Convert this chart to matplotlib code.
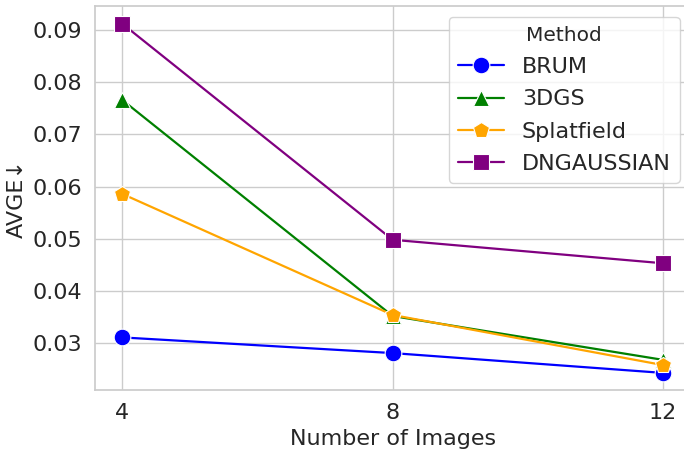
import matplotlib
matplotlib.use("Agg")
import matplotlib.pyplot as plt
import seaborn as sns

images = [4, 8, 12]
methods = ["BRUM", "3DGS", "Splatfield", "DNGAUSSIAN"]
brum = [0.0311, 0.0281, 0.0243]
dgs = [0.0766, 0.0352, 0.0268]
splatfield = [0.0586, 0.0354, 0.0258]
dngaussian = [0.0912, 0.0498, 0.0453]

values = [brum, dgs, splatfield, dngaussian]
colors = ["blue", "green", "orange", "purple"]
markers = ["o", "^", "p", "s"]

sns.set_theme(style="whitegrid")
plt.rcParams['font.family'] = ['DejaVu Sans']

fig, ax = plt.subplots(figsize=(6.84, 4.5), dpi=100)
for name, vals, c, m in zip(methods, values, colors, markers):
    ax.plot(images, vals, color=c, marker=m, markersize=12, linewidth=1.6,
            markeredgecolor="white", markeredgewidth=0.8, label=name)

ax.set_xticks(images)
ax.tick_params(labelsize=16)
ax.set_xlabel("Number of Images", fontsize=16)
ax.set_ylabel("AVGE↓", fontsize=16)
ax.set_xlim(3.6, 12.41)
ax.set_ylim(0.0210, 0.0946)
ax.legend(title="Method", fontsize=16, title_fontsize=14.5, loc="upper right",
          handlelength=2.1, handletextpad=0.8, labelspacing=0.55,
          borderaxespad=0.5)

# axes runs a little past the right edge, as in the reference
fig.subplots_adjust(left=0.139, right=1.010, top=0.987, bottom=0.133)
fig.savefig("out.png")
